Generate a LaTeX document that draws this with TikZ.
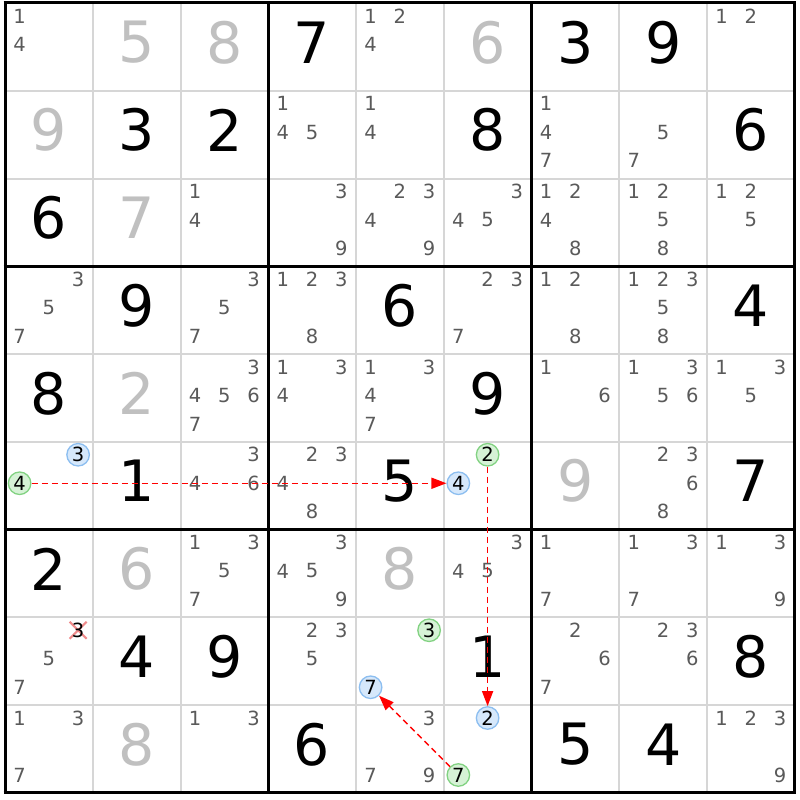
\documentclass[tikz,border=0pt]{standalone}
\usepackage{fontspec}
\setmainfont{DejaVu Sans}
\usetikzlibrary{arrows.meta,shapes.misc}
\definecolor{candgray}{RGB}{90,90,90}
\definecolor{solvedgray}{RGB}{192,192,192}
\definecolor{gridgray}{RGB}{214,214,214}
\definecolor{bluefill}{RGB}{214,232,251}
\definecolor{bluebd}{RGB}{140,190,240}
\definecolor{greenfill}{RGB}{214,242,214}
\definecolor{greenbd}{RGB}{130,210,130}
\definecolor{crossred}{RGB}{240,140,140}
\definecolor{linkred}{RGB}{255,0,0}
\tikzset{
  thinline/.style={draw=gridgray,line width=2pt},
  thickline/.style={draw=black,line width=3pt},
  cand/.style={inner sep=0pt,text=candgray,font=\fontsize{19.5}{21}\selectfont},
  given/.style={inner sep=0pt,text=black,font=\fontsize{57}{60}\selectfont},
  solved/.style={given,text=solvedgray},
  bluecirc/.style={circle,inner sep=0pt,minimum size=22.5pt,line width=1.3pt,draw=bluebd,fill=bluefill,text=black,font=\fontsize{19.5}{21}\selectfont},
  greencirc/.style={bluecirc,draw=greenbd,fill=greenfill},
  link/.style={draw=linkred,color=linkred,line width=1.5pt,dash pattern=on 6pt off 4pt,-{Triangle[length=15pt,width=11pt,fill=linkred]}},
  crossmark/.style={cross out,draw=crossred,line width=2pt,minimum size=15pt,inner sep=0pt}
}
\def\cs{87.75}
\begin{document}
\begin{tikzpicture}[x=1pt,y=-1pt]
\useasboundingbox (0,0) rectangle (800,800);
\fill[white] (0,0) rectangle (800,800);
% thin grid
\foreach \i in {1,2,4,5,7,8} {
  \draw[thinline] ({5+\i*\cs},3) -- ({5+\i*\cs},{3+9*\cs});
  \draw[thinline] (5,{3+\i*\cs}) -- ({5+9*\cs},{3+\i*\cs});
}
\foreach \i in {0,3,6,9} {
  \draw[thickline] ({5+\i*\cs},1.5) -- ({5+\i*\cs},{4.5+9*\cs});
  \draw[thickline] (3.5,{3+\i*\cs}) -- ({6.5+9*\cs},{3+\i*\cs});
}
% givens
\foreach \r/\c/\d in {0/3/7,0/6/3,0/7/9,1/1/3,1/2/2,1/5/8,1/8/6,2/0/6,3/1/9,3/4/6,3/8/4,4/0/8,4/5/9,5/1/1,5/4/5,5/8/7,6/0/2,7/1/4,7/2/9,7/5/1,7/8/8,8/3/6,8/6/5,8/7/4}
  \node[given] (g\r\c) at ({5+(\c+0.5)*\cs},{3+(\r+0.5)*\cs-4.5}) {\d};
\foreach \r/\c/\d in {0/1/5,0/2/8,0/5/6,1/0/9,2/1/7,4/1/2,5/6/9,6/1/6,6/4/8,8/1/8}
  \node[solved] (g\r\c) at ({5+(\c+0.5)*\cs},{3+(\r+0.5)*\cs-4.5}) {\d};
% candidates
\foreach \r/\c/\ds in {0/0/{1,4},0/4/{1,2,4},0/8/{1,2},
 1/3/{1,4,5},1/4/{1,4},1/6/{1,4,7},1/7/{5,7},
 2/2/{1,4},2/3/{3,9},2/4/{2,3,4,9},2/5/{3,4,5},2/6/{1,2,4,8},2/7/{1,2,5,8},2/8/{1,2,5},
 3/0/{3,5,7},3/2/{3,5,7},3/3/{1,2,3,8},3/5/{2,3,7},3/6/{1,2,8},3/7/{1,2,3,5,8},
 4/2/{3,4,5,6,7},4/3/{1,3,4},4/4/{1,3,4,7},4/6/{1,6},4/7/{1,3,5,6},4/8/{1,3,5},
 5/2/{3,4,6},5/3/{2,3,4,8},5/7/{2,3,6,8},
 6/2/{1,3,5,7},6/3/{3,4,5,9},6/5/{3,4,5},6/6/{1,7},6/7/{1,3,7},6/8/{1,3,9},
 7/0/{5,7},7/3/{2,3,5},7/6/{2,6,7},7/7/{2,3,6},
 8/0/{1,3,7},8/2/{1,3},8/4/{3,7,9},8/8/{1,2,3,9}} {
  \foreach \d in \ds {
    \pgfmathsetmacro\kx{mod(\d-1,3)}
    \pgfmathsetmacro\ky{div(\d-1,3)}
    \node[cand] (k\r\c\d) at ({5+\c*\cs+14.6+29.25*\kx},{3+\r*\cs+13+28.5*\ky}) {\d};
  }
}
% crossed-out candidate
\node[crossmark] (x703) at ({5+0*\cs+14.6+29.25*2},{3+7*\cs+13}) {};
\node[cand,text=black] (k703) at ({5+0*\cs+14.6+29.25*2},{3+7*\cs+13}) {3};
% highlighted candidates
\node[bluecirc] (b503) at ({5+0*\cs+14.6+29.25*2},{3+5*\cs+13}) {3};
\node[greencirc] (h504) at ({5+0*\cs+14.6},{3+5*\cs+13+28.5}) {4};
\node[greencirc] (h552) at ({5+5*\cs+14.6+29.25},{3+5*\cs+13}) {2};
\node[bluecirc] (b554) at ({5+5*\cs+14.6},{3+5*\cs+13+28.5}) {4};
\node[greencirc] (h743) at ({5+4*\cs+14.6+29.25*2},{3+7*\cs+13}) {3};
\node[bluecirc] (b747) at ({5+4*\cs+14.6},{3+7*\cs+13+57}) {7};
\node[bluecirc] (b852) at ({5+5*\cs+14.6+29.25},{3+8*\cs+13}) {2};
\node[greencirc] (h857) at ({5+5*\cs+14.6},{3+8*\cs+13+57}) {7};
% links
\draw[link] (h504) -- (b554);
\draw[link] (h552) -- (b852);
\draw[link] (h857) -- (b747);
\end{tikzpicture}
\end{document}
